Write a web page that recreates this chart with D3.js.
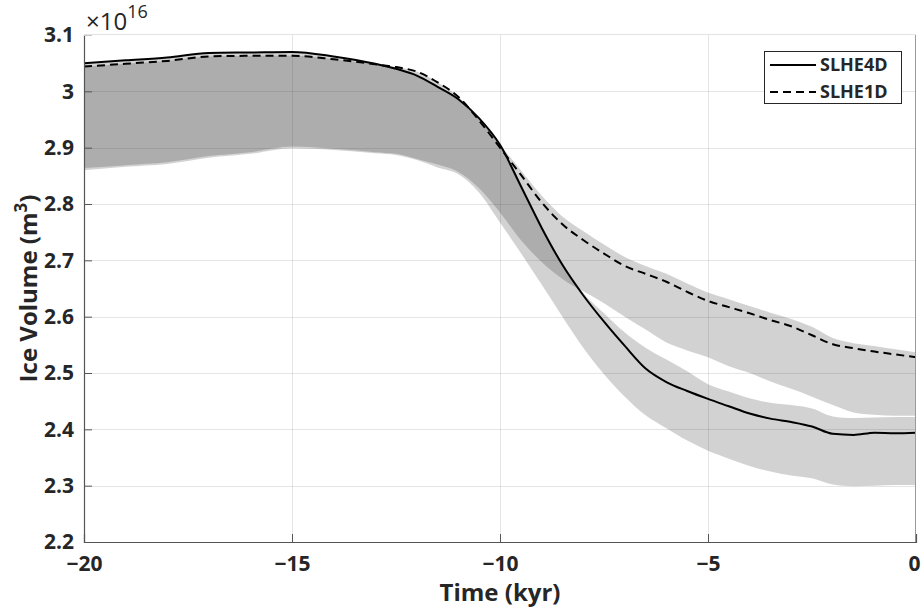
<!DOCTYPE html>
<html>
<head>
<meta charset="utf-8">
<script src="https://cdn.jsdelivr.net/npm/d3@7"></script>
<style>
  html, body { margin: 0; padding: 0; background: #fff; }
  svg { display: block; }
  text { font-family: "Open Sans", "DejaVu Sans", sans-serif; fill: #262626; }
</style>
</head>
<body>
<svg id="chart" width="921" height="608"></svg>
<script>
// Time axis (kyr before present)
const time = [-20, -19, -18, -17, -16, -15, -14, -13, -12.5, -12, -11.5, -11, -10.5, -10,
  -9.5, -9, -8.5, -8, -7.5, -7, -6.5, -6, -5.5, -5, -4.5, -4, -3.5, -3, -2.5, -2, -1.5, -1, -0.5, 0];

// SLHE4D: reference run (solid line) and ensemble envelope
const slhe4d = [3.050, 3.055, 3.060, 3.068, 3.069, 3.070, 3.062, 3.049, 3.040, 3.028, 3.008, 2.986, 2.952, 2.905,
  2.832, 2.758, 2.692, 2.638, 2.591, 2.548, 2.508, 2.484, 2.468, 2.454, 2.441, 2.428, 2.419, 2.413, 2.405, 2.392, 2.390, 2.394, 2.393, 2.394];
const slhe4dUpper = [3.050, 3.055, 3.060, 3.068, 3.069, 3.070, 3.062, 3.049, 3.040, 3.028, 3.008, 2.986, 2.952, 2.905,
  2.832, 2.758, 2.692, 2.642, 2.606, 2.572, 2.545, 2.524, 2.503, 2.480, 2.467, 2.455, 2.447, 2.443, 2.437, 2.423, 2.420, 2.421, 2.422, 2.422];
const slhe4dLower = [2.860, 2.866, 2.871, 2.882, 2.889, 2.899, 2.896, 2.890, 2.887, 2.878, 2.865, 2.853, 2.820, 2.767,
  2.713, 2.657, 2.600, 2.545, 2.498, 2.458, 2.425, 2.402, 2.380, 2.362, 2.348, 2.335, 2.325, 2.318, 2.313, 2.302, 2.299, 2.300, 2.301, 2.301];

// SLHE1D: reference run (dashed line) and ensemble envelope
const slhe1d = [3.044, 3.049, 3.054, 3.062, 3.063, 3.063, 3.057, 3.048, 3.043, 3.035, 3.016, 2.990, 2.948, 2.900,
  2.852, 2.803, 2.764, 2.736, 2.712, 2.690, 2.676, 2.662, 2.644, 2.628, 2.617, 2.606, 2.594, 2.583, 2.567, 2.551, 2.544, 2.538, 2.533, 2.528];
const slhe1dUpper = [3.044, 3.049, 3.054, 3.062, 3.063, 3.063, 3.057, 3.048, 3.043, 3.035, 3.016, 2.990, 2.950, 2.905,
  2.860, 2.815, 2.778, 2.752, 2.728, 2.706, 2.690, 2.676, 2.659, 2.643, 2.631, 2.619, 2.607, 2.596, 2.582, 2.562, 2.553, 2.548, 2.542, 2.537];
const slhe1dLower = [2.864, 2.869, 2.874, 2.885, 2.892, 2.902, 2.898, 2.892, 2.889, 2.880, 2.870, 2.857, 2.828, 2.785,
  2.736, 2.697, 2.667, 2.645, 2.624, 2.600, 2.577, 2.554, 2.540, 2.528, 2.512, 2.500, 2.485, 2.472, 2.458, 2.443, 2.430, 2.426, 2.424, 2.424];

const xTicks = [-20, -15, -10, -5, 0];
const yTicks = [2.2, 2.3, 2.4, 2.5, 2.6, 2.7, 2.8, 2.9, 3.0, 3.1];
const yTickLabels = ["2.2", "2.3", "2.4", "2.5", "2.6", "2.7", "2.8", "2.9", "3", "3.1"];
const seriesNames = ["SLHE4D", "SLHE1D"];

const svg = d3.select("#chart");
const margin = { left: 84, right: 5, top: 35, bottom: 66 };
const W = 921, H = 608;
const x = d3.scaleLinear().domain([-20, 0]).range([margin.left, W - margin.right]);
const y = d3.scaleLinear().domain([2.2, 3.1]).range([H - margin.bottom, margin.top]);

const plot = svg.append("g");

// Shaded envelopes (translucent so overlaps darken)
const area = (lo, hi) => d3.area()
  .x((d, i) => x(time[i]))
  .y0((d, i) => y(lo[i]))
  .y1((d, i) => y(hi[i]))
  .curve(d3.curveMonotoneX)(time);

plot.append("path").attr("d", area(slhe4dLower, slhe4dUpper))
  .attr("fill", "#000").attr("fill-opacity", 0.175);
plot.append("path").attr("d", area(slhe1dLower, slhe1dUpper))
  .attr("fill", "#000").attr("fill-opacity", 0.175);

// Grid lines
const grid = svg.append("g").attr("stroke", "#262626").attr("stroke-opacity", 0.12).attr("stroke-width", 1);
xTicks.slice(1, -1).forEach(t => grid.append("line")
  .attr("x1", Math.round(x(t)) + 0.5).attr("x2", Math.round(x(t)) + 0.5)
  .attr("y1", y(2.2)).attr("y2", y(3.1)));
yTicks.slice(1, -1).forEach(v => grid.append("line")
  .attr("x1", x(-20)).attr("x2", x(0))
  .attr("y1", Math.round(y(v)) + 0.5).attr("y2", Math.round(y(v)) + 0.5));

// Reference lines
const line = vals => d3.line()
  .x((d, i) => x(time[i]))
  .y((d, i) => y(vals[i]))
  .curve(d3.curveMonotoneX)(time);

plot.append("path").attr("d", line(slhe4d))
  .attr("fill", "none").attr("stroke", "#000").attr("stroke-width", 2);
plot.append("path").attr("d", line(slhe1d))
  .attr("fill", "none").attr("stroke", "#000").attr("stroke-width", 2)
  .attr("stroke-dasharray", "8,5");

// Axes frame
svg.append("line").attr("x1", x(-20)).attr("x2", x(0)).attr("y1", y(3.1) - 0.5).attr("y2", y(3.1) - 0.5)
  .attr("stroke", "#e3e3e3");
svg.append("line").attr("x1", x(0) - 0.5).attr("x2", x(0) - 0.5).attr("y1", y(3.1)).attr("y2", y(2.2))
  .attr("stroke", "#9a9a9a");

const xAxis = d3.axisBottom(x).tickValues(xTicks).tickSize(-8).tickPadding(14)
  .tickFormat(d => d === 0 ? "0" : "\u2212" + Math.abs(d));
const gx = svg.append("g").attr("transform", `translate(0,${y(2.2)})`).call(xAxis);
gx.select(".domain").attr("stroke", "#555").attr("stroke-width", 1.2);
gx.selectAll(".tick line").attr("stroke", "#555");
gx.selectAll(".tick text").attr("font-size", 21).attr("font-weight", 700).attr("fill", "#262626");
// keep the last label inside the canvas
gx.selectAll(".tick").filter(d => d === 0).select("text")
  .attr("text-anchor", "end").attr("x", W - 1 - x(0));

const yAxis = d3.axisLeft(y).tickValues(yTicks).tickSize(-8).tickPadding(10)
  .tickFormat((d, i) => yTickLabels[i]);
const gy = svg.append("g").attr("transform", `translate(${x(-20)},0)`).call(yAxis);
gy.select(".domain").attr("stroke", "#555").attr("stroke-width", 1.2);
gy.selectAll(".tick line").attr("stroke", "#555");
gy.selectAll(".tick text").attr("font-size", 21).attr("font-weight", 700).attr("fill", "#262626");
gy.selectAll(".tick").filter(d => d === 3.1).select("line").attr("stroke", "#c8c8c8");

// Axis titles
svg.append("text").attr("x", x(-10)).attr("y", 601).attr("text-anchor", "middle")
  .attr("font-size", 24).attr("font-weight", 700).text("Time (kyr)");

const yt = svg.append("text").attr("transform", `translate(37,${(y(2.2) + y(3.1)) / 2}) rotate(-90)`)
  .attr("text-anchor", "middle").attr("font-size", 24).attr("font-weight", 700);
yt.append("tspan").text("Ice Volume (m");
yt.append("tspan").attr("dy", -10).attr("font-size", 17).text("3");
yt.append("tspan").attr("dy", 10).text(")");

// Exponent label
const ex = svg.append("text").attr("x", 86).attr("y", 30).attr("font-size", 24).attr("font-weight", 400);
ex.append("tspan").text("\u00d710");
ex.append("tspan").attr("dy", -12).attr("font-size", 18).text("16");

// Legend
const lg = svg.append("g");
lg.append("rect").attr("x", 764.5).attr("y", 51.5).attr("width", 137).attr("height", 52)
  .attr("fill", "#fff").attr("stroke", "#262626").attr("stroke-width", 1);
const rows = [{ name: seriesNames[0], dash: null }, { name: seriesNames[1], dash: "8,5" }];
rows.forEach((r, i) => {
  const cy = 65 + i * 27;
  lg.append("line").attr("x1", 770).attr("x2", 816).attr("y1", cy).attr("y2", cy)
    .attr("stroke", "#000").attr("stroke-width", 2).attr("stroke-dasharray", r.dash);
  lg.append("text").attr("x", 820).attr("y", cy + 6).attr("font-size", 18).attr("font-weight", 700)
    .text(r.name);
});
</script>
</body>
</html>
